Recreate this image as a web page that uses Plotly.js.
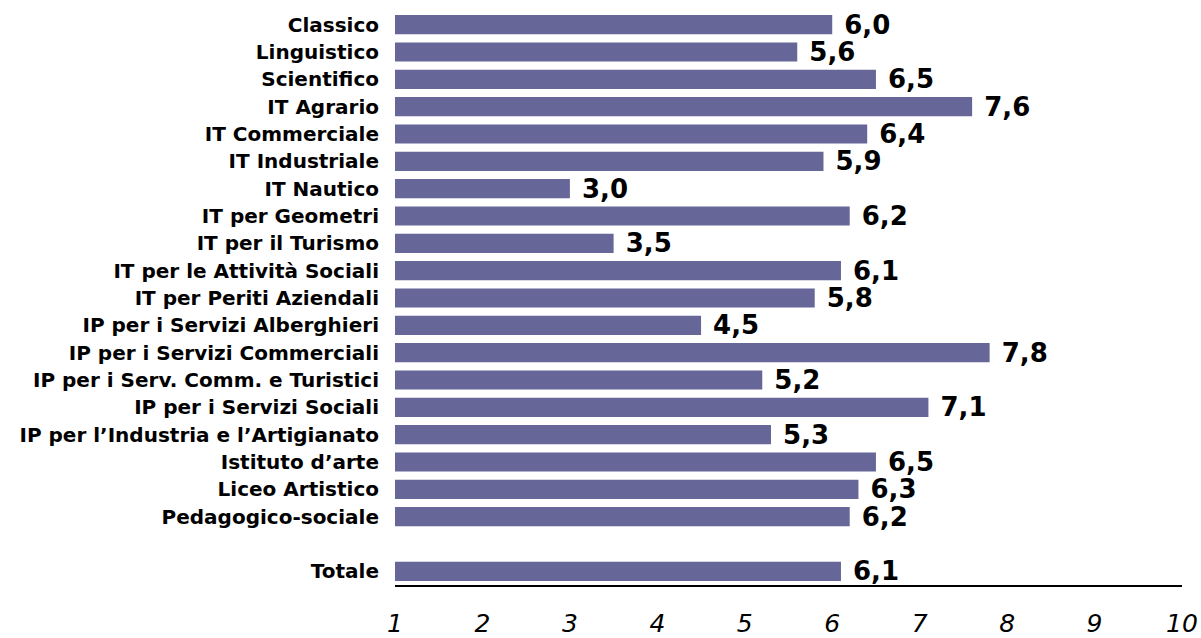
<!DOCTYPE html>
<html>
<head>
<meta charset="utf-8">
<script src="https://cdn.plot.ly/plotly-3.0.1.min.js"></script>
<style>html,body{margin:0;padding:0;background:#fff}#chart{width:1201px;height:638px}</style>
</head>
<body>
<div id="chart"></div>
<script>
const categories = [
  "Classico", "Linguistico", "Scientifico", "IT Agrario", "IT Commerciale",
  "IT Industriale", "IT Nautico", "IT per Geometri", "IT per il Turismo",
  "IT per le Attività Sociali", "IT per Periti Aziendali",
  "IP per i Servizi Alberghieri", "IP per i Servizi Commerciali",
  "IP per i Serv. Comm. e Turistici", "IP per i Servizi Sociali",
  "IP per l\u2019Industria e l\u2019Artigianato", "Istituto d\u2019arte",
  "Liceo Artistico", "Pedagogico-sociale", " ", "Totale"
];
const values = [6.0, 5.6, 6.5, 7.6, 6.4, 5.9, 3.0, 6.2, 3.5, 6.1, 5.8, 4.5, 7.8, 5.2, 7.1, 5.3, 6.5, 6.3, 6.2, null, 6.1];
const xTicks = [1, 2, 3, 4, 5, 6, 7, 8, 9, 10];

const labels = values.map(v => v === null ? "" : "\u00a0" + v.toFixed(1).replace(".", ","));

const trace = {
  type: "bar",
  orientation: "h",
  y: categories,
  x: values.map(v => v === null ? null : v - 1),
  base: 1,
  text: labels,
  textposition: "outside",
  constraintext: "none",
  cliponaxis: false,
  textfont: {family: "DejaVu Sans", size: 26, color: "#000", weight: "bold"},
  marker: {color: "#666699"},
  width: 0.7,
  hoverinfo: "skip"
};

const layout = {
  width: 1201, height: 638,
  margin: {l: 395, r: 19, t: 11, b: 53},
  paper_bgcolor: "#fff", plot_bgcolor: "#fff",
  showlegend: false,
  xaxis: {
    range: [1, 10],
    tickvals: xTicks,
    ticktext: xTicks.map(String),
    showgrid: false, zeroline: false,
    showline: true, linecolor: "#000", linewidth: 1.5,
    ticks: "",
    ticklabelstandoff: 15,
    tickfont: {family: "DejaVu Sans", size: 25, color: "#000", style: "italic"}
  },
  yaxis: {
    type: "category",
    categoryorder: "array",
    categoryarray: categories,
    autorange: "reversed",
    showgrid: false, zeroline: false, showline: false,
    ticks: "",
    ticklabelstandoff: 15,
    tickfont: {family: "DejaVu Sans", size: 20, color: "#000", weight: "bold"}
  },
  bargap: 0.3
};

Plotly.newPlot("chart", [trace], layout, {staticPlot: true, displayModeBar: false});
</script>
</body>
</html>
